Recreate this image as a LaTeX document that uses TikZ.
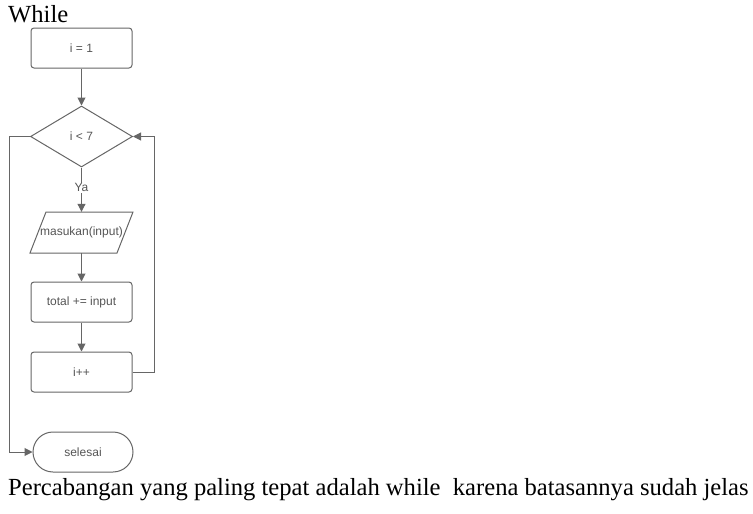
\documentclass[tikz,border=0pt]{standalone}
\usepackage{fontspec}
\setmainfont{Liberation Serif}
\newfontfamily\flowfont{Liberation Sans}
\usetikzlibrary{arrows.meta,shapes.geometric,shapes.misc}
\definecolor{fcline}{HTML}{666666}
\definecolor{fctext}{HTML}{555555}
\tikzset{
  procbox/.style={draw=fcline, line width=1pt, rounded corners=3pt, minimum width=101pt, minimum height=40pt, inner sep=0pt, text=fctext, font=\flowfont\fontsize{12}{14}\selectfont},
  decbox/.style={draw=fcline, line width=1pt, diamond, minimum width=102pt, minimum height=61pt, inner sep=0pt, text=fctext, font=\flowfont\fontsize{12}{14}\selectfont},
  iobox/.style={minimum width=87pt, minimum height=41pt, inner sep=0pt, text=fctext, font=\flowfont\fontsize{12}{14}\selectfont},
  termbox/.style={draw=fcline, line width=1pt, rounded rectangle, minimum width=100pt, minimum height=40pt, inner sep=0pt, text=fctext, font=\flowfont\fontsize{12}{14}\selectfont},
  conn/.style={draw=fcline, line width=1pt},
  arr/.style={conn, -{Triangle[length=8pt,width=8pt]}},
  bigtext/.style={anchor=base west, inner sep=0pt, font=\fontsize{24.6}{29}\selectfont}
}
\begin{document}
\begin{tikzpicture}[x=1pt,y=-1pt]
\useasboundingbox (0,0) rectangle (753,514);
\node[bigtext] (title) at (8,22) {While};
\node[procbox] (init) at (81.5,48) {i = 1};
\node[decbox] (dec) at (81.5,136.5) {i < 7};
\node[iobox] (inp) at (81.5,232.5) {masukan(input)};
\draw[conn] (46,212) -- (133,212) -- (117,253) -- (30,253) -- cycle;
\node[procbox] (tot) at (81.5,302) {total += input};
\node[procbox] (inc) at (81.5,372) {i++};
\node[termbox] (fin) at (83,452) {selesai};
\node[bigtext] (note) at (8,495) {Percabangan yang paling tepat adalah while\ \ karena batasannya sudah jelas};
\draw[arr] (init.south) -- (dec.north);
\draw[arr] (dec.south) -- node[fill=white, inner sep=1pt, text=fctext, font=\flowfont\fontsize{12}{14}\selectfont, pos=0.46] (ya) {Ya} (inp.north);
\draw[arr] (inp.south) -- (tot.north);
\draw[arr] (tot.south) -- (inc.north);
\draw[arr] (inc.east) -- ++(22,0) |- (dec.east);
\draw[arr] (dec.west) -- ++(-20.5,0) |- (fin.west);
\end{tikzpicture}
\end{document}
